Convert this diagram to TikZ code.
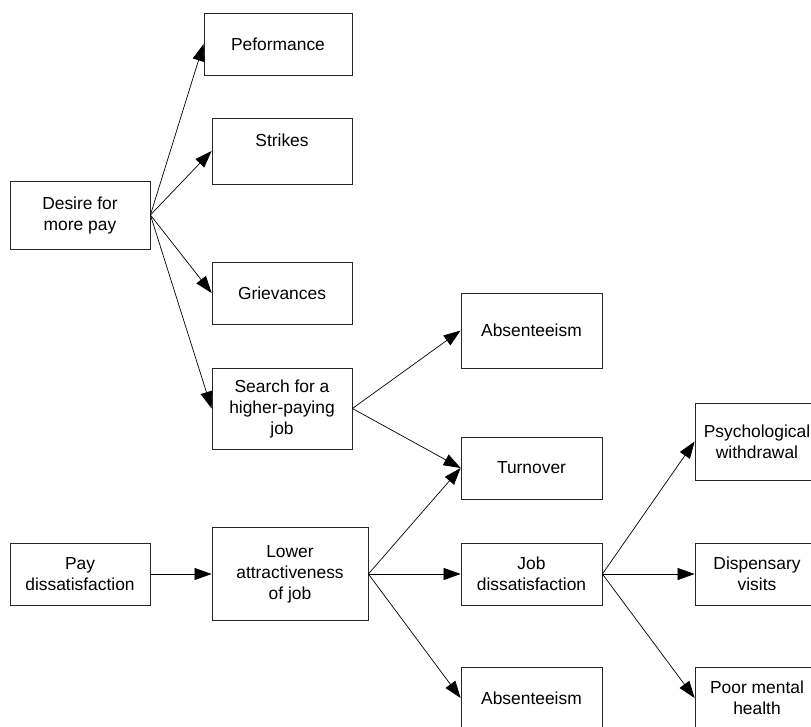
\documentclass[tikz,border=0pt]{standalone}
\usepackage{fontspec}
\setmainfont{Liberation Sans}
\usetikzlibrary{arrows.meta, positioning}
\tikzstyle{box} = [rectangle, draw=black!85, line width=0.8pt, minimum width=140pt, minimum height=62pt, text centered, align=center, inner sep=2pt, font=\fontsize{17.4}{21}\selectfont]
\tikzstyle{arrow} = [line width=0.7pt, -{Triangle[length=17pt, width=12pt]}]

\begin{document}
\begin{tikzpicture}[x=1pt, y=-1pt]

    \useasboundingbox (0,0) rectangle (811,726);
    \clip (0,0) rectangle (811,726);
    \fill[white] (0,0) rectangle (811,726);

    \node (desire) [box, minimum height=68pt] at (80,215) {Desire for\\more pay};
    \node (perf) [box, minimum width=148pt] at (278,44) {Peformance};
    \node (strikes) [box, minimum height=66pt] at (282,151) {Strikes\\\mbox{}};
    \node (griev) [box] at (282,293) {Grievances};
    \node (search) [box, minimum height=81pt] at (282,408.5) {Search for a\\higher-paying\\job};
    \node (pay) [box] at (80,574) {Pay\\dissatisfaction};
    \node (lower) [box, minimum width=156pt, minimum height=93pt] at (290,574) {Lower\\attractiveness\\of job};

    \node (absA) [box, minimum width=141pt, minimum height=75pt] at (531.5,330.5) {Absenteeism};
    \node (turn) [box, minimum width=141pt] at (531.5,468) {Turnover};
    \node (jobd) [box, minimum width=141pt] at (531.5,574) {Job\\dissatisfaction};
    \node (absB) [box, minimum width=141pt] at (531.5,698) {Absenteeism};

    \node (psych) [box, minimum width=124pt, minimum height=77pt] at (757,441.5) {Psychological\\withdrawal};
    \node (disp) [box, minimum width=124pt] at (757,574) {Dispensary\\visits};
    \node (poor) [box, minimum width=124pt] at (757,698) {Poor mental\\health};

    \draw [arrow] (desire.east) -- (perf.west);
    \draw [arrow] (desire.east) -- (strikes.west);
    \draw [arrow] (desire.east) -- (griev.west);
    \draw [arrow] (desire.east) -- (search.west);
    \draw [arrow] (search.east) -- (absA.west);
    \draw [arrow] (search.east) -- (turn.west);
    \draw [arrow] (pay.east) -- (lower.west);
    \draw [arrow] (lower.east) -- (turn.west);
    \draw [arrow] (lower.east) -- (jobd.west);
    \draw [arrow] (lower.east) -- (absB.west);
    \draw [arrow] (jobd.east) -- (psych.west);
    \draw [arrow] (jobd.east) -- (disp.west);
    \draw [arrow] (jobd.east) -- (poor.west);

\end{tikzpicture}
\end{document}
